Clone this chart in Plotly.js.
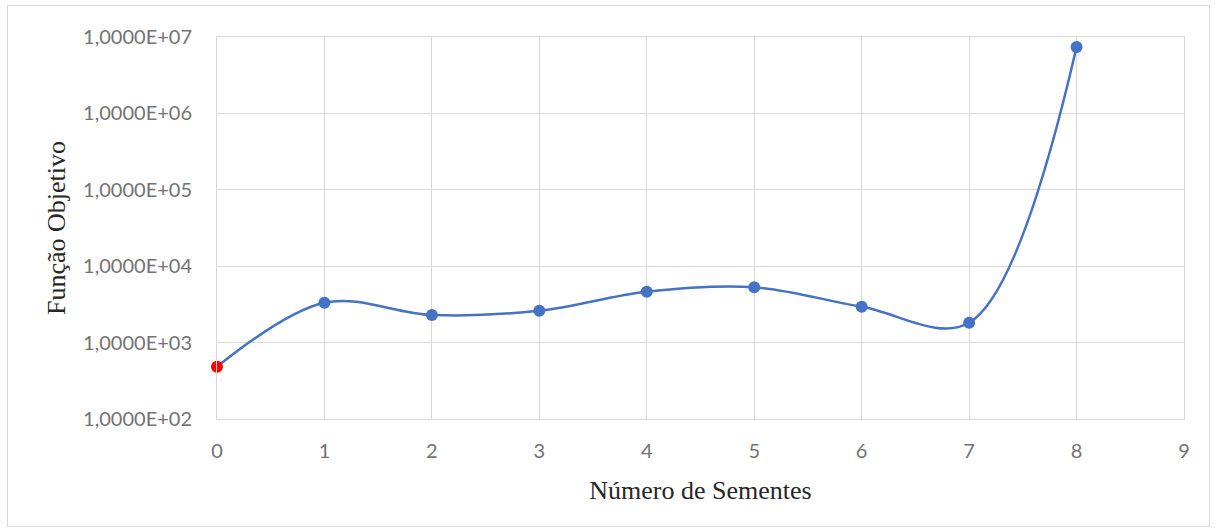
<!DOCTYPE html>
<html>
<head>
<meta charset="utf-8">
<script src="https://cdn.plot.ly/plotly-3.0.1.min.js"></script>
<style>
  html, body { margin: 0; padding: 0; background: #fff; }
  #chart { width: 1215px; height: 532px; }
  #frame { position: absolute; left: 7px; top: 5px; width: 1201px; height: 520px;
           border: 1px solid #d9d9d9; pointer-events: none; }
</style>
</head>
<body>
<div id="chart"></div>
<div id="frame"></div>
<script>
// Data
const seeds = [0, 1, 2, 3, 4, 5, 6, 7, 8];
const objective = [484, 3330, 2300, 2615, 4640, 5300, 2940, 1820, 7380000];
const markerColors = ['#ff0000', '#4472c4', '#4472c4', '#4472c4', '#4472c4', '#4472c4', '#4472c4', '#4472c4', '#4472c4'];
const yTickVals = [1e2, 1e3, 1e4, 1e5, 1e6, 1e7];
const yTickText = ['1,0000E+02', '1,0000E+03', '1,0000E+04', '1,0000E+05', '1,0000E+06', '1,0000E+07'];
const xTickVals = [0, 1, 2, 3, 4, 5, 6, 7, 8, 9];

const trace = {
  x: seeds,
  y: objective,
  type: 'scatter',
  mode: 'lines+markers',
  line: { color: '#4472c4', width: 2.5, shape: 'spline', smoothing: 1 },
  marker: { color: markerColors, size: 12 },
  cliponaxis: false,
  hoverinfo: 'x+y'
};

const tickFont = { family: 'Lato, "Open Sans", sans-serif', size: 20, color: '#737373' };
const titleFont = { family: '"Liberation Serif", "Times New Roman", serif', size: 26, color: '#262626' };

const layout = {
  width: 1215,
  height: 532,
  margin: { l: 217, r: 31, t: 37, b: 113 },
  paper_bgcolor: '#ffffff',
  plot_bgcolor: '#ffffff',
  showlegend: false,
  xaxis: {
    range: [0, 9],
    tickvals: xTickVals,
    ticktext: xTickVals.map(String),
    showgrid: true,
    gridcolor: '#d9d9d9',
    gridwidth: 1,
    zeroline: false,
    showline: true,
    linecolor: '#d9d9d9',
    linewidth: 1,
    mirror: true,
    ticks: '',
    ticklabelstandoff: 14,
    tickfont: tickFont,
    title: { text: 'Número de Sementes', font: titleFont, standoff: 19 }
  },
  yaxis: {
    type: 'log',
    range: [2, 7],
    tickvals: yTickVals,
    ticktext: yTickText,
    showgrid: true,
    gridcolor: '#d9d9d9',
    gridwidth: 1,
    zeroline: false,
    showline: true,
    linecolor: '#d9d9d9',
    linewidth: 1,
    mirror: true,
    ticks: '',
    ticklabelstandoff: 20,
    tickfont: tickFont,
    title: { text: 'Função Objetivo', font: titleFont, standoff: 10 }
  }
};

Plotly.newPlot('chart', [trace], layout, { displayModeBar: false, staticPlot: true });
</script>
</body>
</html>
